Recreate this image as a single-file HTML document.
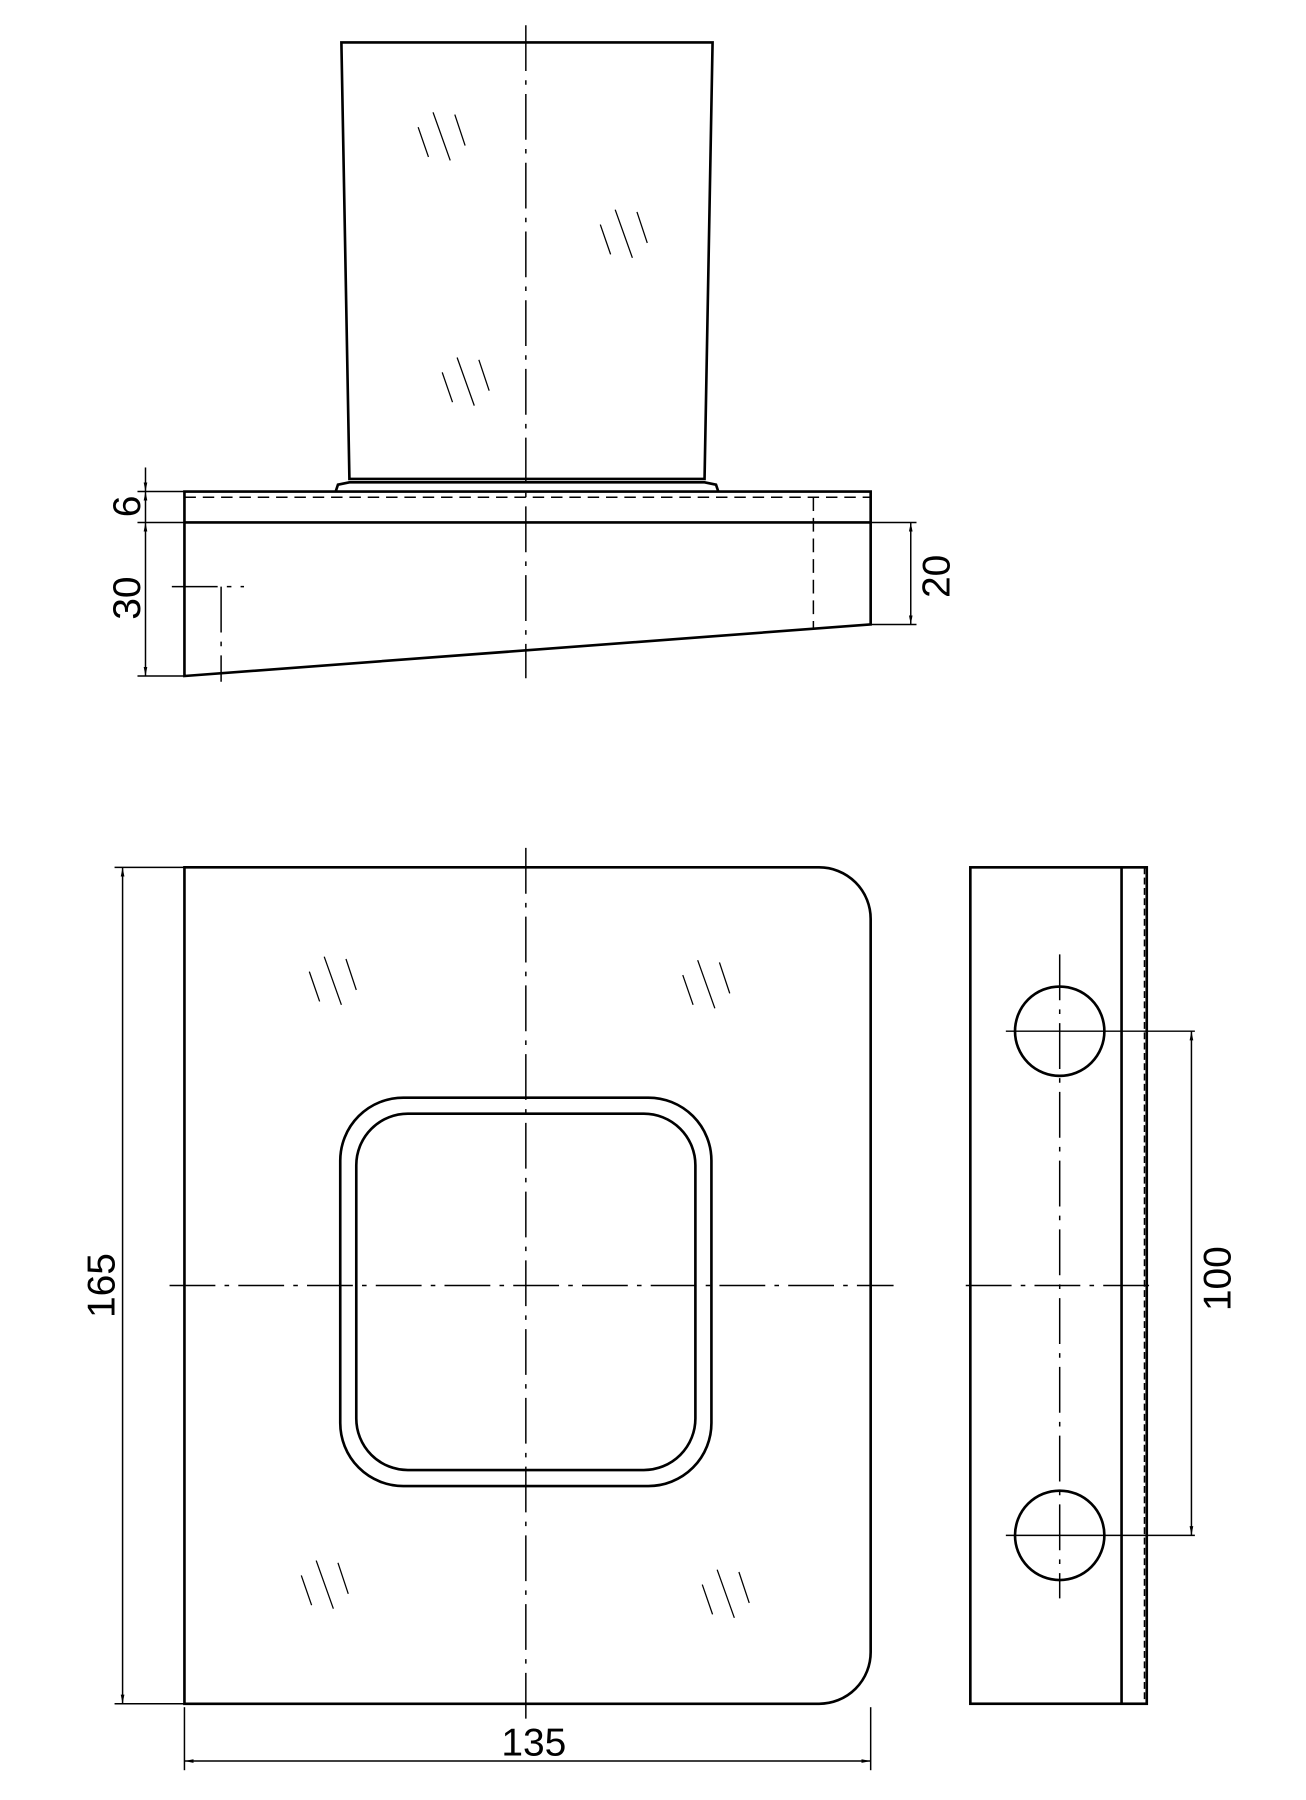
<!DOCTYPE html>
<html><head><style>html,body{margin:0;padding:0;background:#fff;}svg{display:block}</style></head>
<body>
<svg width="1306" height="1800" viewBox="0 0 1140 1571" preserveAspectRatio="none" xmlns="http://www.w3.org/2000/svg">
<defs>
<marker id="a" viewBox="0 0 10 10" refX="10" refY="5" markerWidth="8" markerHeight="8" orient="auto-start-reverse" markerUnits="userSpaceOnUse"><path d="M0,3 L10,5 L0,7z" fill="#000"/></marker>
<path id="h" d="M0,13 L9,39 M13,0 L28,42 M32,2 L41,29" fill="none" stroke="#000" stroke-width="1.1"/>
</defs>
<g fill="none" stroke="#000" stroke-width="2.3">
<path d="M298,37 L622,37 L615,418 L305,418 Z"/>
<path d="M293,429 L295,423 L305,421 L615,421 L625,423 L627,429"/>
<path d="M161,429 L760,429 L760,545 L161,590 Z"/>
<line x1="161" y1="456" x2="760" y2="456"/>
<path d="M161,757 L715,757 A45,45 0 0 1 760,802 L760,1442 A45,45 0 0 1 715,1487 L161,1487 Z"/>
<rect x="297" y="958" width="324" height="339" rx="55"/>
<rect x="311" y="972" width="296" height="311" rx="45"/>
<rect x="847" y="757" width="154" height="730"/>
<line x1="979" y1="757" x2="979" y2="1487"/>
<circle cx="925" cy="900" r="39"/>
<circle cx="925" cy="1340" r="39"/>
</g>
<g fill="none" stroke="#000" stroke-width="1.3">
<line x1="161" y1="434" x2="760" y2="434" stroke-dasharray="10,6"/>
<line x1="710" y1="434" x2="710" y2="548" stroke-dasharray="12,6"/>
<line x1="999" y1="757" x2="999" y2="1487" stroke-dasharray="6,3"/>
<g stroke-dasharray="40,8,4,8">
<line x1="459" y1="22" x2="459" y2="592"/>
<line x1="150" y1="512" x2="213" y2="512"/>
<line x1="193" y1="512" x2="193" y2="595"/>
<line x1="459" y1="740" x2="459" y2="1500"/>
<line x1="148" y1="1122" x2="780" y2="1122"/>
<line x1="925" y1="833" x2="925" y2="1395"/>
<line x1="843" y1="1122" x2="1010" y2="1122"/>
</g>
<line x1="878" y1="900" x2="1043" y2="900"/>
<line x1="878" y1="1340" x2="1043" y2="1340"/>
<line x1="120" y1="429" x2="161" y2="429"/>
<line x1="120" y1="456" x2="161" y2="456"/>
<line x1="120" y1="590" x2="161" y2="590"/>
<line x1="127" y1="408" x2="127" y2="429" marker-end="url(#a)"/>
<line x1="127" y1="456" x2="127" y2="429" marker-end="url(#a)"/>
<line x1="127" y1="456" x2="127" y2="590" marker-start="url(#a)" marker-end="url(#a)"/>
<line x1="760" y1="456" x2="800" y2="456"/>
<line x1="760" y1="545" x2="800" y2="545"/>
<line x1="795" y1="456" x2="795" y2="545" marker-start="url(#a)" marker-end="url(#a)"/>
<line x1="100" y1="757" x2="161" y2="757"/>
<line x1="100" y1="1487" x2="161" y2="1487"/>
<line x1="107" y1="757" x2="107" y2="1487" marker-start="url(#a)" marker-end="url(#a)"/>
<line x1="161" y1="1490" x2="161" y2="1545"/>
<line x1="760" y1="1490" x2="760" y2="1545"/>
<line x1="161" y1="1537" x2="760" y2="1537" marker-start="url(#a)" marker-end="url(#a)"/>
<line x1="1040" y1="900" x2="1040" y2="1340" marker-start="url(#a)" marker-end="url(#a)"/>
</g>
<use href="#h" x="365" y="98"/>
<use href="#h" x="524" y="183"/>
<use href="#h" x="386" y="312"/>
<use href="#h" x="270" y="835"/>
<use href="#h" x="596" y="838"/>
<use href="#h" x="263" y="1362"/>
<use href="#h" x="613" y="1370"/>
<g font-family="Liberation Sans, sans-serif" font-size="34" fill="#000" text-anchor="middle">
<text transform="translate(122,442) rotate(-90)">6</text>
<text transform="translate(122,522) rotate(-90)">30</text>
<text transform="translate(829,503) rotate(-90)">20</text>
<text transform="translate(100,1122) rotate(-90)">165</text>
<text x="466" y="1532">135</text>
<text transform="translate(1074,1116) rotate(-90)">100</text>
</g>
</svg>
</body></html>
